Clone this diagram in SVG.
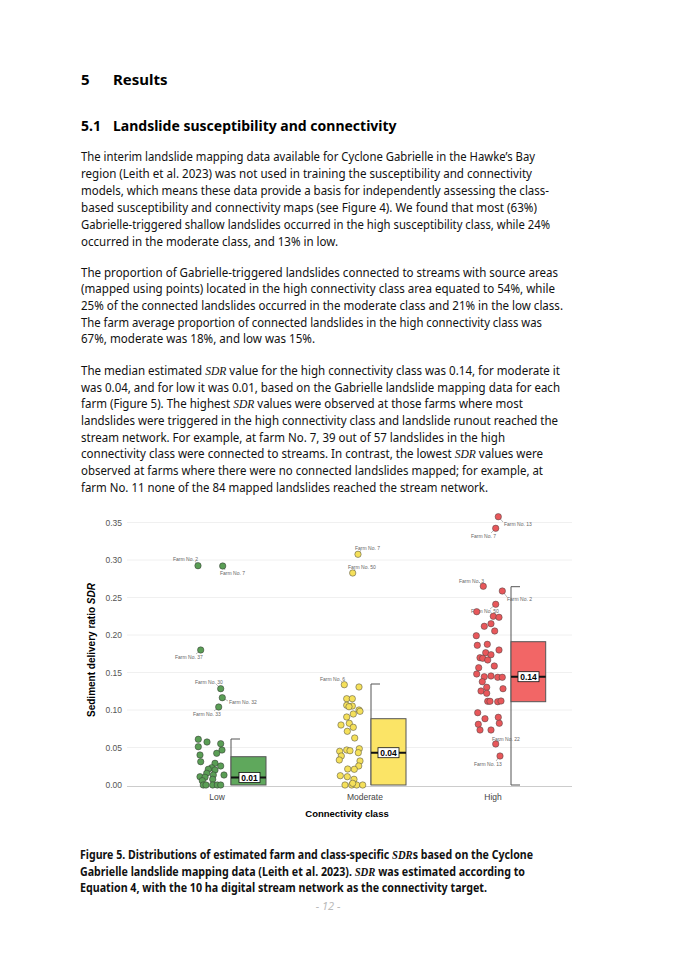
<svg xmlns="http://www.w3.org/2000/svg" width="675" height="955" viewBox="0 0 675 955">
<style>
.h{font-family:"Noto Sans","Open Sans",sans-serif;font-weight:bold;fill:#000}
.b{font-family:"Noto Sans","Open Sans",sans-serif;font-size:12.3px;fill:#111}
.m{font-family:"Liberation Serif",serif;font-style:italic}
.cap{font-family:"Noto Sans","Open Sans",sans-serif;font-size:12px;font-weight:bold;fill:#111}
.g{stroke:#ececec;stroke-width:0.8}
.tk{font-family:"Liberation Sans",sans-serif;font-size:8.5px;fill:#555;text-anchor:end}
.ax{font-family:"Liberation Sans",sans-serif;font-size:8.5px;fill:#444;text-anchor:middle}
.fl{font-family:"Liberation Sans",sans-serif;font-size:5px;fill:#666}
.ld{stroke:#777;stroke-width:0.5}
.lo circle{fill:#5a9e55;stroke:#333;stroke-width:0.5}
.mo circle{fill:#f5e05a;stroke:#444;stroke-width:0.5}
.hi circle{fill:#e8575a;stroke:#444;stroke-width:0.5}
.wh{fill:none;stroke:#555;stroke-width:1}
.ml{stroke:#111;stroke-width:2}
.mb{fill:#fff;stroke:#111;stroke-width:0.8}
.mt{font-family:"Liberation Sans",sans-serif;font-size:8.5px;font-weight:bold;text-anchor:middle;fill:#000}
</style>
<rect width="675" height="955" fill="#fff"/>
<text class="h" x="81" y="85" font-size="15">5</text>
<text class="h" x="113" y="85" font-size="15">Results</text>
<text class="h" x="81" y="131" font-size="14">5.1</text>
<text class="h" x="113" y="131" font-size="14">Landslide susceptibility and connectivity</text>

<text class="b" x="81" y="161" textLength="454" lengthAdjust="spacingAndGlyphs">The interim landslide mapping data available for Cyclone Gabrielle in the Hawke’s Bay</text>
<text class="b" x="81" y="178" textLength="451" lengthAdjust="spacingAndGlyphs">region (Leith et al. 2023) was not used in training the susceptibility and connectivity</text>
<text class="b" x="81" y="195" textLength="468" lengthAdjust="spacingAndGlyphs">models, which means these data provide a basis for independently assessing the class-</text>
<text class="b" x="81" y="212" textLength="456" lengthAdjust="spacingAndGlyphs">based susceptibility and connectivity maps (see Figure 4). We found that most (63%)</text>
<text class="b" x="81" y="229" textLength="469" lengthAdjust="spacingAndGlyphs">Gabrielle-triggered shallow landslides occurred in the high susceptibility class, while 24%</text>
<text class="b" x="81" y="246" textLength="257" lengthAdjust="spacingAndGlyphs">occurred in the moderate class, and 13% in low.</text>

<text class="b" x="81" y="277" textLength="477" lengthAdjust="spacingAndGlyphs">The proportion of Gabrielle-triggered landslides connected to streams with source areas</text>
<text class="b" x="81" y="293" textLength="474" lengthAdjust="spacingAndGlyphs">(mapped using points) located in the high connectivity class area equated to 54%, while</text>
<text class="b" x="81" y="310" textLength="482" lengthAdjust="spacingAndGlyphs">25% of the connected landslides occurred in the moderate class and 21% in the low class.</text>
<text class="b" x="81" y="327" textLength="461" lengthAdjust="spacingAndGlyphs">The farm average proportion of connected landslides in the high connectivity class was</text>
<text class="b" x="81" y="343" textLength="234" lengthAdjust="spacingAndGlyphs">67%, moderate was 18%, and low was 15%.</text>

<text class="b" x="81" y="375" textLength="479" lengthAdjust="spacingAndGlyphs">The median estimated <tspan class="m">SDR</tspan> value for the high connectivity class was 0.14, for moderate it</text>
<text class="b" x="81" y="392" textLength="479" lengthAdjust="spacingAndGlyphs">was 0.04, and for low it was 0.01, based on the Gabrielle landslide mapping data for each</text>
<text class="b" x="81" y="408" textLength="442" lengthAdjust="spacingAndGlyphs">farm (Figure 5). The highest <tspan class="m">SDR</tspan> values were observed at those farms where most</text>
<text class="b" x="81" y="425" textLength="477" lengthAdjust="spacingAndGlyphs">landslides were triggered in the high connectivity class and landslide runout reached the</text>
<text class="b" x="81" y="442" textLength="424" lengthAdjust="spacingAndGlyphs">stream network. For example, at farm No. 7, 39 out of 57 landslides in the high</text>
<text class="b" x="81" y="458" textLength="462" lengthAdjust="spacingAndGlyphs">connectivity class were connected to streams. In contrast, the lowest <tspan class="m">SDR</tspan> values were</text>
<text class="b" x="81" y="475" textLength="462" lengthAdjust="spacingAndGlyphs">observed at farms where there were no connected landslides mapped; for example, at</text>
<text class="b" x="81" y="492" textLength="407" lengthAdjust="spacingAndGlyphs">farm No. 11 none of the 84 mapped landslides reached the stream network.</text>

<g id="chart-axes">
<line class="g" x1="127" y1="522.5" x2="572" y2="522.5"/>
<line class="g" x1="127" y1="560" x2="572" y2="560"/>
<line class="g" x1="127" y1="597.5" x2="572" y2="597.5"/>
<line class="g" x1="127" y1="635" x2="572" y2="635"/>
<line class="g" x1="127" y1="672.5" x2="572" y2="672.5"/>
<line class="g" x1="127" y1="710" x2="572" y2="710"/>
<line class="g" x1="127" y1="747.5" x2="572" y2="747.5"/>
<line x1="127" y1="786.5" x2="572" y2="786.5" stroke="#ccc" stroke-width="1"/>
<text class="tk" x="122" y="525.5">0.35</text>
<text class="tk" x="122" y="563">0.30</text>
<text class="tk" x="122" y="600.5">0.25</text>
<text class="tk" x="122" y="638">0.20</text>
<text class="tk" x="122" y="675.5">0.15</text>
<text class="tk" x="122" y="713">0.10</text>
<text class="tk" x="122" y="750.5">0.05</text>
<text class="tk" x="122" y="788">0.00</text>
<text class="ax" x="217" y="800">Low</text>
<text class="ax" x="365" y="800">Moderate</text>
<text class="ax" x="493" y="800">High</text>
<text x="347" y="817" font-family="Liberation Sans,sans-serif" font-size="9.5" font-weight="bold" text-anchor="middle">Connectivity class</text>
<text transform="translate(95,650) rotate(-90)" font-family="Liberation Sans,sans-serif" font-size="10" font-weight="bold" text-anchor="middle">Sediment delivery ratio <tspan font-style="italic">SDR</tspan></text>
</g>

<g id="boxes">
<path class="wh" d="M240,739 H231 V785"/>
<rect x="231" y="756.7" width="35" height="28.3" fill="#5fa85c" stroke="#555" stroke-width="1"/>
<line class="ml" x1="231" y1="777.5" x2="266" y2="777.5"/>
<rect class="mb" x="239" y="772.5" width="21" height="10"/>
<text class="mt" x="249.5" y="780.5">0.01</text>

<path class="wh" d="M380,684 H371 V785"/>
<rect x="371" y="718.7" width="35" height="66.3" fill="#fbe466" stroke="#555" stroke-width="1"/>
<line class="ml" x1="371" y1="752.7" x2="406" y2="752.7"/>
<rect class="mb" x="378" y="747.7" width="21" height="10"/>
<text class="mt" x="388.5" y="755.7">0.04</text>

<path class="wh" d="M520,586.7 H511 V785 H520"/>
<rect x="511" y="641.7" width="34.7" height="60" fill="#f26666" stroke="#555" stroke-width="1"/>
<line class="ml" x1="511" y1="676.7" x2="545.7" y2="676.7"/>
<rect class="mb" x="518" y="671.7" width="21" height="10"/>
<text class="mt" x="528.5" y="679.7">0.14</text>
</g>

<g id="connectors">
<line class="ld" x1="198" y1="565.7" x2="195" y2="561"/>
<line class="ld" x1="222.7" y1="566" x2="225" y2="570"/>
<line class="ld" x1="200.7" y1="650" x2="196" y2="654"/>
<line class="ld" x1="220.7" y1="688.7" x2="216" y2="684"/>
<line class="ld" x1="222.3" y1="697.7" x2="228" y2="701"/>
<line class="ld" x1="218.7" y1="707" x2="214" y2="711"/>
<line class="ld" x1="358" y1="554.3" x2="361" y2="550"/>
<line class="ld" x1="352.7" y1="573" x2="355" y2="569"/>
<line class="ld" x1="344.3" y1="684.7" x2="341" y2="681"/>
<line class="ld" x1="498.3" y1="516.7" x2="503" y2="522"/>
<line class="ld" x1="495.7" y1="528.3" x2="491" y2="533"/>
<line class="ld" x1="483.3" y1="586.3" x2="479" y2="582"/>
<line class="ld" x1="502.3" y1="591" x2="507" y2="597"/>
<line class="ld" x1="495.7" y1="604.3" x2="490" y2="609"/>
<line class="ld" x1="495.7" y1="744" x2="500" y2="740"/>
<line class="ld" x1="500" y1="756" x2="496" y2="761"/>
</g>

<g id="labels">
<text class="fl" x="173" y="561">Farm No. 2</text>
<text class="fl" x="220" y="575">Farm No. 7</text>
<text class="fl" x="175" y="659">Farm No. 37</text>
<text class="fl" x="195" y="684">Farm No. 30</text>
<text class="fl" x="229" y="704">Farm No. 32</text>
<text class="fl" x="193" y="716">Farm No. 33</text>
<text class="fl" x="355" y="550">Farm No. 7</text>
<text class="fl" x="348" y="569">Farm No. 50</text>
<text class="fl" x="320" y="681">Farm No. 6</text>
<text class="fl" x="504" y="526">Farm No. 13</text>
<text class="fl" x="471" y="538">Farm No. 7</text>
<text class="fl" x="459" y="583">Farm No. 3</text>
<text class="fl" x="507" y="601">Farm No. 2</text>
<text class="fl" x="471" y="613">Farm No. 50</text>
<text class="fl" x="492" y="741">Farm No. 22</text>
<text class="fl" x="474" y="766">Farm No. 13</text>
</g>

<g id="low-points" class="lo">
<circle cx="198.3" cy="739.3" r="3.2"/><circle cx="198.3" cy="746.7" r="3.2"/><circle cx="207" cy="742" r="3.2"/><circle cx="222" cy="750" r="3.2"/><circle cx="216.7" cy="753.3" r="3.2"/><circle cx="220.7" cy="743.7" r="3.2"/><circle cx="200" cy="755" r="3.2"/><circle cx="200.7" cy="761.7" r="3.2"/><circle cx="215" cy="763.3" r="3.2"/><circle cx="220.7" cy="766" r="3.2"/><circle cx="211.7" cy="767.7" r="3.2"/><circle cx="215" cy="770" r="3.2"/><circle cx="208.3" cy="769.3" r="3.2"/><circle cx="206.7" cy="773.3" r="3.2"/><circle cx="213.3" cy="775" r="3.2"/><circle cx="224" cy="775" r="3.2"/><circle cx="200" cy="776.7" r="3.2"/><circle cx="205" cy="777.3" r="3.2"/><circle cx="212.7" cy="779.3" r="3.2"/><circle cx="202.3" cy="780.7" r="3.2"/><circle cx="203.3" cy="785" r="3.2"/><circle cx="206" cy="785" r="3.2"/><circle cx="212.7" cy="785" r="3.2"/><circle cx="217.3" cy="785" r="3.2"/><circle cx="220.7" cy="785" r="3.2"/>
<circle cx="198" cy="565.7" r="3.2"/><circle cx="222.7" cy="566" r="3.2"/><circle cx="200.7" cy="650" r="3.2"/><circle cx="220.7" cy="688.7" r="3.2"/><circle cx="222.3" cy="697.7" r="3.2"/><circle cx="218.7" cy="707" r="3.2"/>
</g>

<g id="moderate-points" class="mo">
<circle cx="344.3" cy="684.7" r="3.2"/><circle cx="359" cy="687" r="3.2"/><circle cx="346.7" cy="698.7" r="3.2"/><circle cx="352.3" cy="698.7" r="3.2"/><circle cx="346.7" cy="705.3" r="3.2"/><circle cx="352.3" cy="706" r="3.2"/><circle cx="349" cy="706.7" r="3.2"/><circle cx="359" cy="710" r="3.2"/><circle cx="360" cy="711.3" r="3.2"/><circle cx="353.3" cy="714" r="3.2"/><circle cx="346.7" cy="717" r="3.2"/><circle cx="341" cy="725" r="3.2"/><circle cx="349.3" cy="723.3" r="3.2"/><circle cx="353.3" cy="727.3" r="3.2"/><circle cx="347.3" cy="731.3" r="3.2"/><circle cx="354.7" cy="738" r="3.2"/><circle cx="339.7" cy="751.3" r="3.2"/><circle cx="346.7" cy="750" r="3.2"/><circle cx="350" cy="750.7" r="3.2"/><circle cx="359.3" cy="748.7" r="3.2"/><circle cx="358.3" cy="752.7" r="3.2"/><circle cx="341.3" cy="756" r="3.2"/><circle cx="339.3" cy="760" r="3.2"/><circle cx="360" cy="761" r="3.2"/><circle cx="358.7" cy="766" r="3.2"/><circle cx="354.3" cy="769.3" r="3.2"/><circle cx="347.7" cy="769" r="3.2"/><circle cx="340.3" cy="775.7" r="3.2"/><circle cx="347.3" cy="776.7" r="3.2"/><circle cx="354" cy="779.3" r="3.2"/><circle cx="345" cy="785" r="3.2"/><circle cx="351.7" cy="785" r="3.2"/><circle cx="356.7" cy="785" r="3.2"/><circle cx="362.7" cy="785" r="3.2"/><circle cx="352.7" cy="783.3" r="3.2"/>
<circle cx="358" cy="554.3" r="3.2"/><circle cx="352.7" cy="573" r="3.2"/>
</g>

<g id="high-points" class="hi">
<circle cx="498.3" cy="516.7" r="3.2"/><circle cx="495.7" cy="528.3" r="3.2"/><circle cx="483.3" cy="586.3" r="3.2"/><circle cx="502.3" cy="591" r="3.2"/><circle cx="495.7" cy="604.3" r="3.2"/><circle cx="476.7" cy="611.7" r="3.2"/><circle cx="493.3" cy="616.3" r="3.2"/><circle cx="499" cy="617.3" r="3.2"/><circle cx="491" cy="623.7" r="3.2"/><circle cx="484.3" cy="626.3" r="3.2"/><circle cx="494.7" cy="631" r="3.2"/><circle cx="476.3" cy="635.7" r="3.2"/><circle cx="477.3" cy="645.3" r="3.2"/><circle cx="487.3" cy="644.3" r="3.2"/><circle cx="499" cy="650" r="3.2"/><circle cx="485.7" cy="652.7" r="3.2"/><circle cx="491" cy="654.7" r="3.2"/><circle cx="480" cy="657.7" r="3.2"/><circle cx="482.7" cy="658.3" r="3.2"/><circle cx="487.7" cy="660" r="3.2"/><circle cx="494.3" cy="666" r="3.2"/><circle cx="478.7" cy="667.7" r="3.2"/><circle cx="476.7" cy="674" r="3.2"/><circle cx="484.3" cy="676.7" r="3.2"/><circle cx="491" cy="676" r="3.2"/><circle cx="497.7" cy="677.3" r="3.2"/><circle cx="502.3" cy="677.3" r="3.2"/><circle cx="482.3" cy="681.7" r="3.2"/><circle cx="486.7" cy="687.3" r="3.2"/><circle cx="503" cy="688.7" r="3.2"/><circle cx="481" cy="691" r="3.2"/><circle cx="486.7" cy="693.3" r="3.2"/><circle cx="487.7" cy="701.3" r="3.2"/><circle cx="490" cy="701.3" r="3.2"/><circle cx="497.7" cy="701.7" r="3.2"/><circle cx="501" cy="701" r="3.2"/><circle cx="477.7" cy="712.7" r="3.2"/><circle cx="498.3" cy="717.3" r="3.2"/><circle cx="485" cy="718.7" r="3.2"/><circle cx="499.3" cy="723.3" r="3.2"/><circle cx="478.3" cy="724.3" r="3.2"/><circle cx="480" cy="730" r="3.2"/><circle cx="491" cy="730" r="3.2"/><circle cx="495.7" cy="744" r="3.2"/><circle cx="500" cy="756" r="3.2"/>
</g>

<text class="cap" x="80" y="859" textLength="453" lengthAdjust="spacingAndGlyphs">Figure 5. Distributions of estimated farm and class-specific <tspan class="m">SDR</tspan>s based on the Cyclone</text>
<text class="cap" x="80" y="876" textLength="445" lengthAdjust="spacingAndGlyphs">Gabrielle landslide mapping data (Leith et al. 2023). <tspan class="m">SDR</tspan> was estimated according to</text>
<text class="cap" x="80" y="892" textLength="407" lengthAdjust="spacingAndGlyphs">Equation 4, with the 10 ha digital stream network as the connectivity target.</text>
<text x="328" y="910" font-family="Noto Sans,sans-serif" font-size="11" font-style="italic" fill="#bbb" text-anchor="middle">- 12 -</text>
</svg>
